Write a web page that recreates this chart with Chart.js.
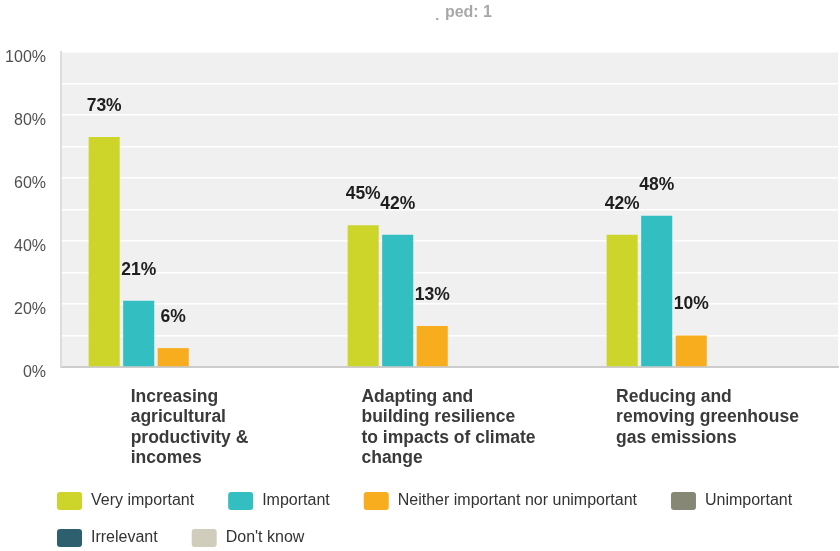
<!DOCTYPE html>
<html>
<head>
<meta charset="utf-8">
<script src="https://cdn.jsdelivr.net/npm/chart.js@4.4.1/dist/chart.umd.min.js"></script>
<style>
  body { margin: 0; background: #fff; }
  canvas { display: block; }
</style>
</head>
<body>
<canvas id="importanceChart" width="840" height="551"></canvas>
<script>
const FONT = '"Liberation Sans", Arial, sans-serif';

const categories = [
    ['Increasing', 'agricultural', 'productivity &', 'incomes'],
    ['Adapting and', 'building resilience', 'to impacts of climate', 'change'],
    ['Reducing and', 'removing greenhouse', 'gas emissions']
];
const seriesNames = ['Very important', 'Important', 'Neither important nor unimportant',
    'Unimportant', 'Irrelevant', "Don't know"];
const veryImportant = [73, 45, 42];
const important = [21, 42, 48];
const neither = [6, 13, 10];
const unimportant = [0, 0, 0];
const irrelevant = [0, 0, 0];
const dontKnow = [0, 0, 0];
const yTicks = [0, 20, 40, 60, 80, 100];

const seriesColors = ['#cdd42a', '#33bfc1', '#f7ad1e', '#868775', '#2e5f6e', '#d0cdbd'];
const seriesValues = [veryImportant, important, neither, unimportant, irrelevant, dontKnow];

// gray panel behind the bars
const plotBackground = {
    id: 'plotBackground',
    beforeDraw(chart) {
        const { ctx, chartArea: a } = chart;
        ctx.save();
        ctx.fillStyle = '#f0f0f0';
        ctx.fillRect(a.left, a.top, a.right - a.left, a.bottom - a.top);
        ctx.restore();
    }
};

// percentage above each bar
const barValues = {
    id: 'barValues',
    afterDatasetsDraw(chart) {
        const ctx = chart.ctx;
        ctx.save();
        ctx.font = 'bold 17.5px ' + FONT;
        ctx.fillStyle = '#1e1e1e';
        ctx.textAlign = 'center';
        ctx.textBaseline = 'middle';
        chart.data.datasets.forEach((ds, i) => {
            chart.getDatasetMeta(i).data.forEach((bar, j) => {
                const v = ds.data[j];
                if (!v) return;
                ctx.fillText(v + '%', bar.x, bar.y - 31);
            });
        });
        ctx.restore();
    }
};

// category names: left-aligned lines, block centred under the group
const categoryLabels = {
    id: 'categoryLabels',
    afterDraw(chart) {
        const ctx = chart.ctx;
        const xs = chart.scales.x;
        ctx.save();
        ctx.font = 'bold 17.5px ' + FONT;
        ctx.fillStyle = '#3a3a3a';
        ctx.textAlign = 'left';
        ctx.textBaseline = 'middle';
        categories.forEach((lines, i) => {
            const w = Math.max(...lines.map(l => ctx.measureText(l).width));
            const left = xs.getPixelForValue(i) - 1 - w / 2;
            lines.forEach((l, k) => {
                ctx.fillText(l, left, chart.chartArea.bottom + 30 + k * 20.5);
            });
        });
        ctx.restore();
    }
};

// legend with square swatches, wrapping onto a second row
const swatchLegend = {
    id: 'swatchLegend',
    afterDraw(chart) {
        const ctx = chart.ctx;
        ctx.save();
        ctx.font = '16px ' + FONT;
        ctx.textBaseline = 'middle';
        ctx.textAlign = 'left';
        let x = 57, y = 501;
        chart.data.datasets.forEach(ds => {
            const tw = ctx.measureText(ds.label).width;
            if (x + 34 + tw > chart.width) {
                x = 57;
                y += 37;
            }
            ctx.fillStyle = ds.backgroundColor;
            ctx.beginPath();
            ctx.roundRect(x, y - 9, 25, 18, 3);
            ctx.fill();
            ctx.fillStyle = '#333';
            ctx.fillText(ds.label, x + 34, y);
            x += 34 + tw + 34;
        });
        ctx.restore();
    }
};

// header text, partly covered at the left
const header = {
    id: 'header',
    afterDraw(chart) {
        const ctx = chart.ctx;
        ctx.save();
        ctx.beginPath();
        ctx.rect(445, 0, 100, 30);
        ctx.rect(400, 18, 50, 10);
        ctx.clip();
        ctx.font = 'bold 16px ' + FONT;
        ctx.fillStyle = '#a8a8a8';
        ctx.textAlign = 'right';
        ctx.textBaseline = 'alphabetic';
        ctx.fillText('Skipped: 1', 492, 17);
        ctx.restore();
    }
};

new Chart(document.getElementById('importanceChart'), {
    type: 'bar',
    data: {
        labels: categories.map(c => c.join(' ')),
        datasets: seriesNames.map((name, i) => ({
            label: name,
            data: seriesValues[i],
            backgroundColor: seriesColors[i],
            borderWidth: 0
        }))
    },
    options: {
        responsive: false,
        animation: false,
        devicePixelRatio: 1,
        layout: { padding: { top: 52, right: 2, bottom: 176, left: 0 } },
        plugins: {
            legend: { display: false },
            tooltip: { enabled: false }
        },
        scales: {
            x: {
                grid: { display: false },
                border: { color: '#cccccc', width: 2 },
                ticks: { display: false }
            },
            y: {
                min: 0,
                max: 100,
                afterFit(scale) { scale.width = 61; },
                afterBuildTicks(scale) {
                    scale.ticks = [];
                    for (let v = 0; v <= 100; v += 10) scale.ticks.push({ value: v });
                },
                grid: { color: '#ffffff', lineWidth: 1.5, drawTicks: false },
                border: { color: '#dddddd', width: 2 },
                ticks: {
                    padding: 15,
                    labelOffset: 6,
                    color: '#505050',
                    font: { family: FONT, size: 16 },
                    callback: v => yTicks.includes(v) ? v + '%' : ''
                }
            }
        }
    },
    plugins: [plotBackground, barValues, categoryLabels, swatchLegend, header]
});
</script>
</body>
</html>
